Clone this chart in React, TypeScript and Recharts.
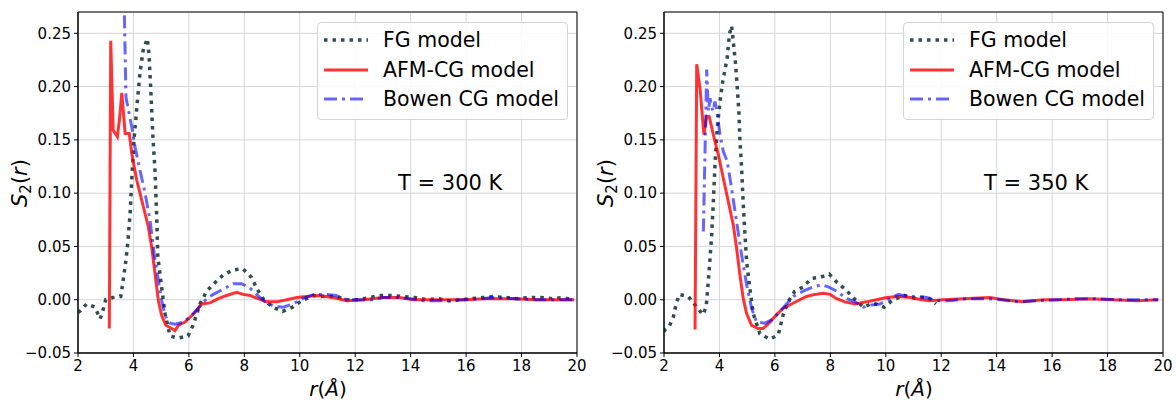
import React from "react";
import {
  CartesianGrid,
  Line,
  LineChart,
  ReferenceArea,
  XAxis,
  YAxis,
} from "recharts";

// [r, S2] pairs
const fg300: [number, number][] = [
  [2.0, -0.012], [2.1, -0.01], [2.31, -0.004], [2.61, -0.007], [2.8, -0.018], [2.9, -0.01],
  [3.0, 0.0], [3.26, 0.002], [3.54, 0.003], [3.6, 0.013], [3.73, 0.037], [3.8, 0.055],
  [3.88, 0.081], [3.94, 0.113], [4.02, 0.15], [4.12, 0.18], [4.24, 0.214], [4.35, 0.234],
  [4.5, 0.245], [4.56, 0.231], [4.62, 0.2], [4.7, 0.154], [4.78, 0.12], [4.84, 0.077],
  [4.88, 0.04], [5.02, 0.011], [5.14, -0.013], [5.32, -0.034], [5.6, -0.036], [5.97, -0.034],
  [6.15, -0.024], [6.4, -0.004], [6.64, 0.008], [6.94, 0.016], [7.23, 0.023], [7.59, 0.028],
  [7.95, 0.029], [8.26, 0.021], [8.46, 0.01], [8.7, 0.0], [9.02, -0.007], [9.38, -0.011],
  [9.74, -0.007], [10.07, -0.001], [10.5, 0.004], [10.9, 0.003], [11.3, 0.003], [11.7, 0.0],
  [12.1, 0.0], [12.5, 0.002], [12.92, 0.004], [13.3, 0.004], [13.7, 0.003], [14.15, 0.002],
  [14.6, 0.0], [15.0, 0.001], [15.4, -0.001], [15.8, 0.0], [16.2, 0.001], [16.6, 0.002],
  [17.0, 0.003], [17.45, 0.002], [17.8, 0.001], [18.3, 0.002], [18.7, 0.002], [19.1, 0.001],
  [19.5, 0.002], [19.85, 0.0],
];

const afm300: [number, number][] = [
  [3.13, -0.027], [3.18, 0.243], [3.27, 0.159], [3.42, 0.153], [3.5, 0.17], [3.58, 0.194],
  [3.7, 0.156], [3.85, 0.156], [3.94, 0.137], [4.12, 0.112], [4.36, 0.087], [4.54, 0.068],
  [4.66, 0.049], [4.78, 0.024], [4.9, -0.001], [5.02, -0.015], [5.17, -0.024], [5.38, -0.027],
  [5.5, -0.029], [5.62, -0.024], [5.86, -0.021], [6.1, -0.015], [6.28, -0.01], [6.46, -0.004],
  [6.76, -0.003], [7.06, 0.001], [7.36, 0.004], [7.72, 0.007], [7.96, 0.005], [8.2, 0.004],
  [8.5, 0.001], [8.8, -0.002], [9.17, -0.002], [9.53, 0.0], [9.89, 0.002], [10.25, 0.003],
  [10.67, 0.004], [11.2, 0.002], [11.7, -0.001], [12.3, 0.0], [13.0, 0.002], [13.6, 0.002],
  [14.1, 0.0], [14.8, 0.0], [15.4, 0.0], [16.0, 0.0], [16.6, 0.001], [17.2, 0.001],
  [17.8, 0.001], [18.5, 0.0], [19.3, 0.0], [19.9, 0.0],
];

const bowen300: [number, number][] = [
  [3.62, 0.34], [3.73, 0.19], [3.82, 0.178], [3.94, 0.162], [4.06, 0.143], [4.24, 0.121],
  [4.42, 0.1], [4.6, 0.074], [4.75, 0.043], [4.9, 0.018], [5.02, -0.001], [5.14, -0.015],
  [5.32, -0.022], [5.5, -0.023], [5.8, -0.021], [6.1, -0.015], [6.4, -0.006], [6.64, 0.001],
  [6.88, 0.005], [7.24, 0.01], [7.6, 0.015], [7.9, 0.015], [8.2, 0.011], [8.44, 0.005],
  [8.75, -0.002], [9.05, -0.006], [9.4, -0.007], [9.75, -0.004], [10.1, 0.001], [10.5, 0.005],
  [11.0, 0.005], [11.3, 0.004], [11.7, 0.0], [12.2, 0.0], [12.6, 0.0], [13.0, 0.002],
  [13.5, 0.002], [14.0, 0.001], [14.45, -0.001], [14.9, -0.001], [15.4, -0.001], [15.9, 0.0],
  [16.6, 0.001], [16.9, 0.002], [17.8, 0.001], [18.5, 0.0], [19.3, 0.0], [19.85, 0.0],
];

const fg350: [number, number][] = [
  [2.0, -0.03], [2.04, -0.028], [2.19, -0.025], [2.34, -0.016], [2.43, -0.005], [2.55, 0.005],
  [2.88, 0.003], [3.12, -0.005], [3.4, -0.014], [3.52, -0.007], [3.58, 0.011], [3.66, 0.039],
  [3.72, 0.061], [3.78, 0.092], [3.84, 0.127], [3.92, 0.161], [4.02, 0.186], [4.12, 0.205],
  [4.2, 0.216], [4.28, 0.227], [4.36, 0.249], [4.44, 0.257], [4.5, 0.242], [4.58, 0.222],
  [4.64, 0.2], [4.7, 0.177], [4.74, 0.149], [4.8, 0.123], [4.86, 0.089], [4.92, 0.061],
  [4.98, 0.036], [5.1, 0.01], [5.22, -0.013], [5.46, -0.032], [5.82, -0.037], [6.12, -0.033],
  [6.3, -0.014], [6.48, -0.002], [6.72, 0.008], [7.02, 0.012], [7.32, 0.02], [7.63, 0.021],
  [7.96, 0.024], [8.25, 0.016], [8.57, 0.009], [8.86, 0.001], [9.19, -0.007], [9.55, -0.003],
  [9.94, -0.007], [10.27, 0.0], [10.66, 0.004], [11.09, 0.001], [11.48, 0.003], [11.81, -0.004],
];

const afm350: [number, number][] = [
  [3.12, -0.028], [3.18, 0.221], [3.3, 0.198], [3.44, 0.155], [3.54, 0.172], [3.63, 0.172],
  [3.78, 0.155], [3.96, 0.136], [4.14, 0.114], [4.32, 0.092], [4.5, 0.07], [4.62, 0.048],
  [4.74, 0.023], [4.86, 0.001], [4.98, -0.013], [5.16, -0.024], [5.4, -0.027], [5.58, -0.027],
  [5.82, -0.021], [6.06, -0.014], [6.3, -0.008], [6.6, -0.004], [6.9, 0.0], [7.14, 0.003],
  [7.44, 0.005], [7.75, 0.006], [7.99, 0.005], [8.23, 0.001], [8.53, -0.002], [8.89, -0.004],
  [9.31, -0.002], [9.67, 0.0], [10.03, 0.002], [10.45, 0.003], [10.9, 0.002], [11.3, 0.0],
  [11.6, -0.001], [12.08, 0.0], [12.8, 0.001], [13.76, 0.002], [14.24, 0.0], [14.96, -0.002],
  [15.68, 0.0], [16.4, 0.0], [17.37, 0.001], [18.2, 0.0], [19.05, -0.001], [19.83, 0.0],
];

const bowen350: [number, number][] = [
  [3.42, 0.064], [3.54, 0.216], [3.6, 0.177], [3.66, 0.189], [3.76, 0.177], [3.84, 0.186],
  [3.92, 0.174], [4.02, 0.155], [4.14, 0.139], [4.28, 0.13], [4.44, 0.104], [4.62, 0.073],
  [4.8, 0.042], [4.98, 0.014], [5.16, -0.008], [5.34, -0.021], [5.64, -0.022], [5.88, -0.019],
  [6.12, -0.013], [6.42, -0.004], [6.66, 0.003], [7.02, 0.008], [7.38, 0.012], [7.68, 0.014],
  [7.93, 0.012], [8.23, 0.008], [8.59, 0.001], [8.89, -0.002], [9.19, -0.007], [9.49, -0.005],
  [9.79, -0.004], [10.15, 0.001], [10.45, 0.005], [10.63, 0.004], [11.11, 0.003], [11.48, 0.002],
  [11.84, -0.001], [12.32, -0.001], [12.92, 0.001], [13.64, 0.001], [14.2, 0.0], [14.8, -0.002],
  [15.4, -0.001], [16.2, 0.0], [16.9, 0.001], [17.6, 0.001], [18.3, 0.0], [19.05, 0.0], [19.83, 0.0],
];

const xTicks = [2, 4, 6, 8, 10, 12, 14, 16, 18, 20];
const yTicks = [-0.05, 0, 0.05, 0.1, 0.15, 0.2, 0.25];
const seriesNames = ["FG model", "AFM-CG model", "Bowen CG model"];

const FONT = "'DejaVu Sans', sans-serif";
const FG_COLOR = "#2f4f4f";
const FG_DASH = "3.5 5";
const AFM_COLOR = "#ff0000";
const BOWEN_COLOR = "#0000ff";
const BOWEN_DASH = "13 5 3 5";

const toPoints = (arr: [number, number][]) => arr.map(([x, y]) => ({ x, y }));
const fmtY = (v: number) => v.toFixed(2).replace("-", "\u2212");

interface PanelProps {
  left: number;
  yAxisWidth: number;
  rightMargin: number;
  fg: [number, number][];
  afm: [number, number][];
  bowen: [number, number][];
  temp: string;
}

function Panel({ left, yAxisWidth, rightMargin, fg, afm, bowen, temp }: PanelProps) {
  const tick = { fill: "#000", fontSize: 15, fontFamily: FONT };
  return (
    <div style={{ position: "absolute", left, top: 0, width: 588, height: 406 }}>
      <LineChart
        width={588}
        height={406}
        margin={{ top: 12, right: rightMargin, bottom: 23, left: 0 }}
      >
        <CartesianGrid stroke="#d6d6d6" strokeWidth={1} />
        <XAxis
          dataKey="x"
          type="number"
          domain={[2, 20]}
          ticks={xTicks}
          allowDataOverflow
          height={30}
          tick={tick}
          tickSize={4}
          tickMargin={3}
          stroke="#000"
          tickLine={{ stroke: "#000" }}
        />
        <YAxis
          type="number"
          domain={[-0.05, 0.27]}
          ticks={yTicks}
          allowDataOverflow
          width={yAxisWidth}
          tick={tick}
          tickFormatter={fmtY}
          tickSize={4}
          tickMargin={3}
          stroke="#000"
          tickLine={{ stroke: "#000" }}
        />
        <Line
          data={toPoints(fg)}
          dataKey="y"
          type="linear"
          stroke={FG_COLOR}
          strokeWidth={3.5}
          strokeDasharray={FG_DASH}
          dot={false}
          isAnimationActive={false}
          name={seriesNames[0]}
        />
        <Line
          data={toPoints(afm)}
          dataKey="y"
          type="linear"
          stroke={AFM_COLOR}
          strokeOpacity={0.8}
          strokeWidth={3}
          dot={false}
          isAnimationActive={false}
          name={seriesNames[1]}
        />
        <Line
          data={toPoints(bowen)}
          dataKey="y"
          type="linear"
          stroke={BOWEN_COLOR}
          strokeOpacity={0.6}
          strokeWidth={3}
          strokeDasharray={BOWEN_DASH}
          dot={false}
          isAnimationActive={false}
          name={seriesNames[2]}
        />
        <ReferenceArea x1={2} x2={20} y1={-0.05} y2={0.27} fill="none" stroke="#000" strokeWidth={1} />
      </LineChart>

      {/* legend */}
      <div
        style={{
          position: "absolute",
          left: yAxisWidth + 239,
          top: 22,
          width: 251,
          height: 98,
          border: "1px solid #d4d4d4",
          borderRadius: 4,
          background: "rgba(255,255,255,0.85)",
          fontFamily: FONT,
          fontSize: 20.5,
          boxSizing: "border-box",
        }}
      >
        {seriesNames.map((name, i) => (
          <div key={name} style={{ position: "absolute", left: 6, top: 3 + i * 29.5, height: 28, display: "flex", alignItems: "center" }}>
            <svg width={46} height={10} style={{ marginRight: 13 }}>
              <line
                x1={0}
                x2={44}
                y1={5}
                y2={5}
                stroke={[FG_COLOR, AFM_COLOR, BOWEN_COLOR][i]}
                strokeOpacity={[1, 0.8, 0.6][i]}
                strokeWidth={i === 0 ? 3.5 : 3}
                strokeDasharray={[FG_DASH, undefined, BOWEN_DASH][i]}
              />
            </svg>
            <span style={{ whiteSpace: "nowrap", color: "#000" }}>{name}</span>
          </div>
        ))}
      </div>

      {/* temperature */}
      <div
        style={{
          position: "absolute",
          left: yAxisWidth + 320,
          top: 171,
          fontFamily: FONT,
          fontSize: 21,
          whiteSpace: "nowrap",
        }}
      >
        {temp}
      </div>

      {/* y label */}
      <div
        style={{
          position: "absolute",
          left: yAxisWidth - 58,
          top: 183,
          transform: "translate(-50%, -50%) rotate(-90deg)",
          fontFamily: FONT,
          fontSize: 21,
          whiteSpace: "nowrap",
        }}
      >
        <i>S</i>
        <span style={{ fontSize: 15, position: "relative", top: 4 }}>2</span>(<i>r</i>)
      </div>

      {/* x label */}
      <div
        style={{
          position: "absolute",
          left: yAxisWidth + 250,
          top: 389,
          transform: "translate(-50%, -50%)",
          fontFamily: FONT,
          fontSize: 20,
          whiteSpace: "nowrap",
        }}
      >
        <i>r</i>(<i>Å</i>)
      </div>
    </div>
  );
}

export default function App() {
  return (
    <div style={{ position: "absolute", left: 0, top: 0, width: 1176, height: 406, background: "#fff" }}>
      <Panel left={0} yAxisWidth={78} rightMargin={11} fg={fg300} afm={afm300} bowen={bowen300} temp="T = 300 K" />
      <Panel left={588} yAxisWidth={76} rightMargin={13} fg={fg350} afm={afm350} bowen={bowen350} temp="T = 350 K" />
    </div>
  );
}
